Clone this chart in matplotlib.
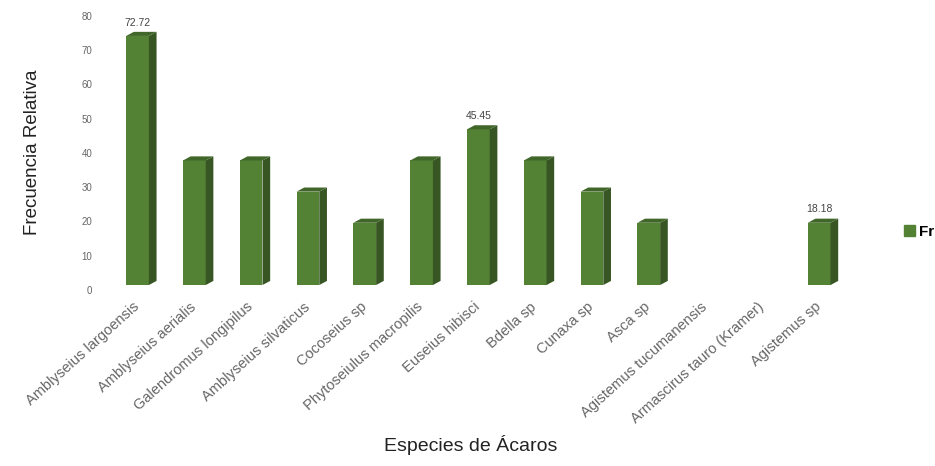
import numpy as np
import matplotlib.pyplot as plt
from matplotlib.patches import Polygon, Patch
from matplotlib.transforms import ScaledTranslation

# === Datos ===
especies = ['Amblyseius largoensis', 'Amblyseius aerialis', 'Galendromus longipilus',
            'Amblyseius silvaticus', 'Cocoseius sp', 'Phytoseiulus macropilis',
            'Euseius hibisci', 'Bdella sp', 'Cunaxa sp', 'Asca sp',
            'Agistemus tucumanensis', 'Armascirus tauro (Kramer)', 'Agistemus sp']
fr = [72.72, 36.36, 36.36, 27.27, 18.18, 36.36, 45.45, 36.36, 27.27, 18.18, 0, 0, 18.18]
etiquetas = [0, 6, 12]  # barras con el valor escrito

# === Estilo ===
plt.rcParams['font.family'] = ['Liberation Sans', 'DejaVu Sans']
verde = '#548235'
verde_lado = '#375623'
verde_tope = '#41662a'
ancho = 0.40
dx, dy = 0.135, 1.2   # profundidad del efecto 3D
base = 1.45           # desplazamiento del suelo

fig = plt.figure(figsize=(9.35, 4.66), dpi=100)
ax = fig.add_axes([0.1076, 0.3777, 0.808, 0.588])

x = np.arange(len(especies))
for i, v in zip(x, fr):
    if v <= 0:
        continue
    ax.bar(i, v, width=ancho, bottom=base, color=verde, zorder=2)
    x0, x1 = i - ancho / 2, i + ancho / 2
    lado = Polygon([(x1, base), (x1 + dx, base + dy), (x1 + dx, base + v + dy), (x1, base + v)],
                   closed=True, facecolor=verde_lado, edgecolor='none', zorder=2)
    tope = Polygon([(x0, base + v), (x0 + dx, base + v + dy), (x1 + dx, base + v + dy), (x1, base + v)],
                   closed=True, facecolor=verde_tope, edgecolor='none', zorder=2)
    ax.add_patch(lado)
    ax.add_patch(tope)

for i in etiquetas:
    ax.annotate(f'{fr[i]:.2f}', (x[i], base + fr[i] + dy), xytext=(0, 3),
                textcoords='offset points', ha='center', va='bottom',
                fontsize=7.5, color='#444444')

ax.set_xlim(-0.65, 12.65)
ax.set_ylim(0, 80)
ax.set_yticks(np.arange(0, 81, 10))
ax.tick_params(axis='y', length=0, pad=6, labelsize=7, labelcolor='#666666')
ax.tick_params(axis='x', length=0, pad=7)
ax.set_xticks(x)
ax.set_xticklabels(especies, rotation=42, ha='right', rotation_mode='anchor',
                   fontsize=10.5, color='#666666')
desplaza = ScaledTranslation(-5 / 100, 0, fig.dpi_scale_trans)
for lab in ax.get_xticklabels():
    lab.set_transform(lab.get_transform() + desplaza)
for s in ax.spines.values():
    s.set_visible(False)

fig.text(33 / 935, 0.673, 'Frecuencia Relativa', rotation=90, ha='center', va='center',
         fontsize=13.5, color='#222222')
fig.text(0.503, 0.024, 'Especies de Ácaros', ha='center', va='bottom',
         fontsize=14, color='#222222')

fig.legend(handles=[Patch(color=verde, label='Fr')], loc='center left',
           bbox_to_anchor=(0.952, 0.502), frameon=False, handlelength=0.7,
           handleheight=0.7, handletextpad=0.3, prop={'size': 11, 'weight': 'bold'})

fig.savefig('out.png', dpi=100)
